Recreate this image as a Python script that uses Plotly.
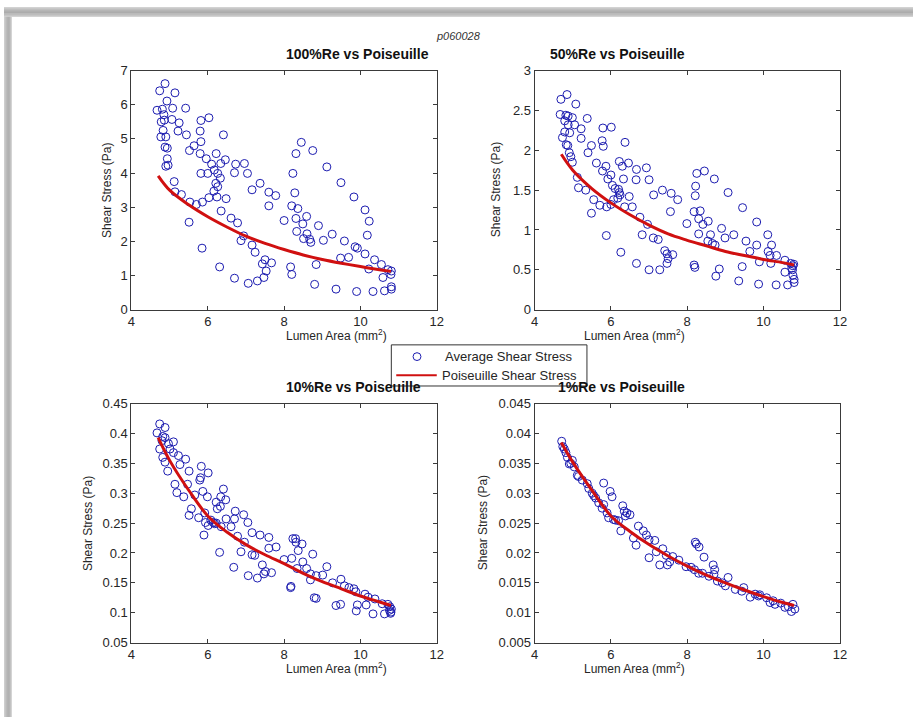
import plotly.graph_objects as go

# ---------------- data ----------------
x100 = [4.88, 4.74, 5.14, 4.93, 4.67, 4.81, 5.08, 5.42, 4.85, 5.06, 4.78, 5.25, 5.82, 6.03, 4.83, 5.22,
        5.80, 5.44, 4.77, 4.90, 6.41, 5.82, 5.64, 5.52, 4.88, 4.94, 5.80, 6.22, 5.96, 6.46, 4.94, 4.96,
        4.90, 6.10, 6.34, 6.73, 6.96, 7.04, 6.70, 5.82, 6.00, 6.17, 6.26, 6.33, 6.21, 5.12, 7.37, 7.16,
        7.60, 7.78, 6.16, 5.14, 5.31, 5.53, 5.70, 5.86, 6.03, 6.24, 6.48, 7.60, 6.35, 6.61, 6.78, 5.51,
        6.94, 6.87, 7.16, 7.24, 5.85, 7.50, 7.67, 7.43, 7.53, 7.47, 7.30, 7.06, 6.70, 6.31, 8.00, 8.20,
        8.23, 8.31, 8.45, 8.75, 9.12, 9.49, 9.83, 10.12, 10.23, 10.18, 8.28, 8.36, 8.31, 8.59, 8.49, 8.90,
        8.33, 8.60, 8.67, 8.70, 8.51, 9.03, 9.26, 9.58, 9.86, 9.92, 9.69, 9.48, 10.12, 10.37, 10.55, 10.72,
        10.81, 10.22, 8.84, 8.17, 8.20, 8.80, 9.36, 9.90, 10.33, 10.63, 10.59, 10.81, 10.81, 10.80, 6.26, 4.86]
y100 = [6.62, 6.41, 6.35, 6.11, 5.84, 5.87, 5.90, 5.90, 5.71, 5.57, 5.50, 5.47, 5.54, 5.62, 5.25, 5.23,
        5.23, 5.12, 5.06, 5.06, 5.12, 4.92, 4.80, 4.66, 4.76, 4.73, 4.57, 4.57, 4.42, 4.39, 4.42, 4.23,
        4.20, 4.26, 4.28, 4.26, 4.28, 3.99, 4.01, 3.99, 3.99, 4.09, 3.99, 3.85, 3.70, 3.75, 3.70, 3.51,
        3.44, 3.34, 3.47, 3.45, 3.37, 3.15, 3.08, 3.15, 3.28, 3.30, 3.25, 3.04, 2.89, 2.68, 2.54, 2.56,
        2.16, 2.02, 1.89, 1.68, 1.80, 1.46, 1.37, 1.34, 1.13, 0.94, 0.84, 0.77, 0.92, 1.25, 2.61, 3.04,
        3.99, 4.57, 4.90, 4.66, 4.18, 3.72, 3.30, 2.92, 2.59, 2.18, 3.42, 2.96, 2.67, 2.73, 2.51, 2.46,
        2.29, 2.22, 2.06, 1.97, 2.08, 2.03, 2.21, 2.01, 1.84, 1.80, 1.53, 1.51, 1.63, 1.46, 1.32, 1.17,
        1.13, 1.19, 1.32, 1.25, 1.03, 0.74, 0.60, 0.53, 0.53, 0.55, 0.94, 0.67, 0.60, 1.03, 3.60, 5.55]

x50 = [4.69, 4.85, 5.08, 4.67, 4.82, 4.88, 4.99, 4.79, 5.05, 5.38, 4.88, 5.22, 5.79, 6.01, 4.79, 4.92,
       4.73, 5.22, 5.77, 6.37, 4.83, 4.87, 5.49, 5.80, 5.40, 4.91, 4.95, 4.99, 5.62, 6.22, 6.46, 6.30,
       5.87, 6.67, 6.93, 5.78, 6.00, 5.92, 6.33, 6.66, 7.00, 5.12, 6.04, 6.11, 6.20, 6.22, 6.24, 6.18,
       6.07, 5.15, 5.34, 5.55, 6.48, 7.35, 7.58, 7.12, 7.75, 5.71, 5.89, 6.00, 6.36, 6.56, 5.49, 7.56,
       6.76, 6.96, 7.99, 8.18, 8.30, 8.34, 8.21, 8.22, 8.25, 8.45, 8.71, 9.07, 9.45, 9.82, 10.11, 10.21,
       8.41, 8.55, 8.30, 8.61, 8.90, 8.99, 9.22, 8.54, 8.66, 8.73, 9.54, 9.64, 9.82, 9.89, 10.12, 10.17,
       10.19, 10.34, 10.56, 10.71, 10.77, 10.74, 10.56, 10.77, 10.80, 10.80, 10.63, 10.33, 9.87, 9.35,
       9.44, 8.75, 8.84, 8.18, 8.20, 7.28, 7.00, 6.67, 6.26, 5.88, 6.82, 7.11, 7.24, 7.41, 7.47, 7.62,
       7.50, 7.47, 10.79, 10.76]
y50 = [2.64, 2.70, 2.58, 2.45, 2.44, 2.43, 2.41, 2.37, 2.32, 2.40, 2.32, 2.27, 2.28, 2.29, 2.23, 2.22,
       2.16, 2.15, 2.12, 2.10, 2.07, 2.06, 2.06, 2.05, 1.97, 1.97, 1.92, 1.85, 1.84, 1.86, 1.84, 1.80,
       1.80, 1.76, 1.78, 1.74, 1.69, 1.64, 1.64, 1.63, 1.63, 1.66, 1.56, 1.52, 1.51, 1.47, 1.44, 1.40,
       1.38, 1.53, 1.50, 1.38, 1.42, 1.50, 1.46, 1.44, 1.38, 1.31, 1.29, 1.32, 1.29, 1.29, 1.21, 1.23,
       1.16, 1.07, 1.08, 1.23, 1.14, 1.24, 1.43, 1.55, 1.71, 1.74, 1.64, 1.47, 1.28, 1.10, 0.94, 0.81,
       1.07, 1.11, 0.95, 0.94, 1.02, 0.90, 0.94, 0.86, 0.83, 0.81, 0.86, 0.73, 0.81, 0.60, 0.73, 0.68,
       0.58, 0.68, 0.62, 0.58, 0.55, 0.52, 0.47, 0.43, 0.38, 0.34, 0.31, 0.31, 0.32, 0.36,
       0.54, 0.42, 0.51, 0.56, 0.53, 0.50, 0.50, 0.58, 0.72, 0.93, 0.94, 0.90, 0.88, 0.74, 0.70, 0.69,
       0.64, 0.58, 0.57, 0.50]

x10 = [4.74, 4.67, 4.88, 4.82, 4.88, 4.80, 5.10, 4.97, 4.74, 5.01, 5.10, 5.23, 5.42, 4.82, 4.88, 5.27,
       5.51, 4.95, 5.83, 6.01, 5.81, 5.79, 5.14, 5.19, 5.37, 5.47, 6.41, 5.87, 5.99, 6.34, 6.47, 6.22,
       6.33, 6.25, 5.66, 5.57, 5.51, 5.76, 5.92, 5.94, 6.01, 6.14, 6.18, 6.22, 6.08, 6.35, 6.48, 6.70,
       6.72, 6.94, 7.05, 6.61, 6.78, 6.96, 7.16, 7.37, 7.60, 7.60, 7.79, 5.90, 6.31, 6.87, 7.16, 7.23,
       6.68, 7.06, 7.30, 7.43, 7.47, 7.51, 7.67, 8.00, 8.20, 8.23, 8.30, 8.31, 8.47, 8.37, 8.75, 8.49,
       8.59, 8.34, 8.69, 8.69, 8.84, 9.01, 9.12, 9.27, 9.49, 9.58, 9.70, 9.83, 9.88, 10.12, 10.20, 10.38,
       10.57, 10.72, 10.77, 10.81, 10.80, 10.63, 10.33, 10.15, 9.92, 9.89, 9.48, 9.36, 8.84, 8.79, 8.17,
       8.18, 10.76, 10.79]
y10 = [0.416, 0.401, 0.410, 0.395, 0.393, 0.388, 0.386, 0.383, 0.374, 0.374, 0.368, 0.363, 0.357, 0.360,
       0.352, 0.348, 0.337, 0.337, 0.345, 0.334, 0.326, 0.322, 0.315, 0.301, 0.294, 0.315, 0.307, 0.303,
       0.294, 0.294, 0.289, 0.285, 0.278, 0.274, 0.297, 0.274, 0.263, 0.259, 0.267, 0.251, 0.246, 0.251,
       0.249, 0.250, 0.255, 0.244, 0.257, 0.257, 0.270, 0.264, 0.251, 0.244, 0.228, 0.218, 0.234, 0.230,
       0.226, 0.208, 0.210, 0.230, 0.201, 0.202, 0.197, 0.196, 0.176, 0.162, 0.158, 0.180, 0.165, 0.169,
       0.167, 0.189, 0.191, 0.224, 0.224, 0.218, 0.215, 0.204, 0.198, 0.185, 0.174, 0.174, 0.165, 0.155,
       0.162, 0.163, 0.177, 0.150, 0.156, 0.145, 0.142, 0.140, 0.135, 0.131, 0.126, 0.123, 0.115, 0.114,
       0.110, 0.106, 0.101, 0.098, 0.098, 0.113, 0.113, 0.103, 0.114, 0.112, 0.124, 0.125, 0.142, 0.144,
       0.104, 0.099]

x1 = [4.71, 4.78, 4.82, 4.86, 4.91, 4.99, 5.04, 5.12, 5.25, 5.38, 5.42, 5.51, 5.60, 5.68, 5.77, 5.81,
      5.81, 5.90, 5.94, 5.98, 6.03, 6.07, 6.20, 6.26, 6.31, 6.35, 6.42, 6.50, 6.59, 6.66, 6.72, 6.85,
      6.93, 7.00, 7.00, 7.15, 7.19, 7.28, 7.36, 7.45, 7.48, 7.54, 7.62, 7.78, 7.97, 8.19, 8.21, 8.24,
      8.31, 8.30, 8.44, 8.57, 8.68, 8.72, 8.70, 8.79, 8.92, 9.00, 9.07, 9.26, 9.43, 9.48, 9.65, 9.78,
      9.87, 10.08, 10.17, 10.30, 10.45, 10.56, 10.65, 10.73, 10.77, 10.82, 4.74, 4.95, 5.15, 5.55,
      6.12, 6.38, 8.10, 8.40, 9.90, 10.25]
y1 = [0.0387, 0.0374, 0.0368, 0.0360, 0.0349, 0.0355, 0.0344, 0.0330, 0.0322, 0.0316, 0.0308, 0.0300,
      0.0292, 0.0284, 0.0275, 0.0317, 0.0281, 0.0267, 0.0259, 0.0303, 0.0294, 0.0256, 0.0254, 0.0237,
      0.0279, 0.0270, 0.0267, 0.0264, 0.0225, 0.0213, 0.0245, 0.0237, 0.0230, 0.0222, 0.0192, 0.0221,
      0.0202, 0.0180, 0.0207, 0.0196, 0.0180, 0.0185, 0.0194, 0.0188, 0.0177, 0.0172, 0.0218, 0.0215,
      0.0210, 0.0166, 0.0193, 0.0161, 0.0180, 0.0172, 0.0164, 0.0153, 0.0150, 0.0145, 0.0159, 0.0139,
      0.0136, 0.0142, 0.0126, 0.0131, 0.0128, 0.0125, 0.0117, 0.0114, 0.0116, 0.0109, 0.0110, 0.0102,
      0.0114, 0.0106, 0.0378, 0.0350, 0.0328, 0.0296, 0.0255, 0.0262, 0.0176, 0.0166, 0.0130, 0.0120]

curve_x = [4.7, 5.0, 5.5, 6.0, 6.5, 7.0, 7.5, 8.0, 8.5, 9.0, 9.5, 10.0, 10.5, 10.8]
curve100 = [3.92, 3.50, 3.07, 2.72, 2.42, 2.15, 1.94, 1.76, 1.60, 1.47, 1.36, 1.26, 1.17, 1.12]
curve50 = [1.95, 1.75, 1.52, 1.34, 1.19, 1.06, 0.95, 0.87, 0.80, 0.73, 0.68, 0.63, 0.59, 0.56]
curve10 = [0.393, 0.355, 0.305, 0.262, 0.235, 0.214, 0.197, 0.182, 0.166, 0.152, 0.140, 0.128, 0.118, 0.112]
curve1 = [0.0385, 0.0352, 0.0305, 0.0262, 0.0236, 0.0214, 0.0195, 0.0178, 0.0163, 0.0150, 0.0138, 0.0127, 0.0117, 0.0112]

titles = ["100%Re vs Poiseuille", "50%Re vs Poiseuille", "10%Re vs Poiseuille", "1%Re vs Poiseuille"]
x_ticks = [4, 6, 8, 10, 12]
y_ticks = [
    [0, 1, 2, 3, 4, 5, 6, 7],
    [0, 0.5, 1, 1.5, 2, 2.5, 3],
    [0.05, 0.1, 0.15, 0.2, 0.25, 0.3, 0.35, 0.4, 0.45],
    [0.005, 0.01, 0.015, 0.02, 0.025, 0.03, 0.035, 0.04, 0.045],
]
y_tick_text = [
    ["0", "1", "2", "3", "4", "5", "6", "7"],
    ["0", "0.5", "1", "1.5", "2", "2.5", "3"],
    ["0.05", "0.1", "0.15", "0.2", "0.25", "0.3", "0.35", "0.4", "0.45"],
    ["0.005", "0.01", "0.015", "0.02", "0.025", "0.03", "0.035", "0.04", "0.045"],
]
legend_names = ["Average Shear Stress", "Poiseuille Shear Stress"]

# ---------------- figure ----------------
W, H = 920, 725
FONT = "Liberation Sans, Arial, sans-serif"
BLUE = "#1c1cb0"
RED = "#d01010"
AX = "#3a3a3a"
TXT = "#262626"

# axes boxes in pixels (left, top, right, bottom)
boxes = [(129, 65, 438, 309), (537, 65, 846, 309), (129, 405, 438, 649), (537, 405, 846, 649)]
ylabel_x = [104, 498, 85, 485]

series = [(x100, y100, curve100), (x50, y50, curve50), (x10, y10, curve10), (x1, y1, curve1)]


def px(x):
    return x / W


def py(y):
    return 1 - y / H


fig = go.Figure()
layout = dict(
    width=W, height=H, margin=dict(l=0, r=0, t=0, b=0),
    paper_bgcolor="white", plot_bgcolor="white",
    font=dict(family=FONT, size=12, color=TXT),
    showlegend=False,
)
annotations = []
shapes = []

for i, (xs, ys, cy) in enumerate(series):
    n = "" if i == 0 else str(i + 1)
    l, t, r, b = boxes[i]
    fig.add_trace(go.Scatter(
        x=xs, y=ys, mode="markers", name=legend_names[0],
        marker=dict(symbol="circle-open", size=8, color=BLUE, line=dict(width=1, color=BLUE)),
        xaxis="x" + n, yaxis="y" + n))
    fig.add_trace(go.Scatter(
        x=curve_x, y=cy, mode="lines", name=legend_names[1],
        line=dict(color=RED, width=3, shape="spline"),
        xaxis="x" + n, yaxis="y" + n))
    yt = y_ticks[i]
    layout["xaxis" + n] = dict(
        domain=[px(l), px(r)], anchor="y" + n, range=[4, 12],
        tickvals=x_ticks, ticktext=[str(v) for v in x_ticks],
        ticks="inside", ticklen=4, tickcolor=AX, showline=True, linecolor=AX, linewidth=1,
        mirror="ticks", showgrid=False, zeroline=False,
        tickfont=dict(family=FONT, size=13, color=TXT))
    layout["yaxis" + n] = dict(
        domain=[py(b), py(t)], anchor="x" + n, range=[yt[0], yt[-1]],
        tickvals=yt, ticktext=y_tick_text[i],
        ticks="inside", ticklen=4, tickcolor=AX, showline=True, linecolor=AX, linewidth=1,
        mirror="ticks", showgrid=False, zeroline=False,
        tickfont=dict(family=FONT, size=13, color=TXT))
    annotations.append(dict(text="<b>" + titles[i] + "</b>", x=px((l + r) / 2), y=py(t - 16.5),
                            xref="paper", yref="paper", showarrow=False,
                            font=dict(family=FONT, size=14, color="#111"), yanchor="middle"))
    annotations.append(dict(text="Lumen Area (mm<sup>2</sup>)", x=px((l + r) / 2), y=py(b + 26),
                            xref="paper", yref="paper", showarrow=False,
                            font=dict(family=FONT, size=12, color=TXT), yanchor="middle"))
    annotations.append(dict(text="Shear Stress (Pa)", x=px(ylabel_x[i]), y=py((t + b) / 2),
                            xref="paper", yref="paper", showarrow=False, textangle=-90,
                            font=dict(family=FONT, size=12, color=TXT),
                            xanchor="center", yanchor="middle"))

annotations.append(dict(text="<i>p060028</i>", x=px(460), y=py(30), xref="paper", yref="paper",
                        xanchor="center", yanchor="middle",
                        showarrow=False, font=dict(family=FONT, size=11, color="#333")))

# legend box in the middle of the figure
LG = dict(l=392, t=345, r=590, b=387)
shapes.append(dict(type="rect", xref="paper", yref="paper", x0=px(LG["l"]), x1=px(LG["r"]),
                   y0=py(LG["b"]), y1=py(LG["t"]), fillcolor="white", line=dict(color="#333", width=1)))
shapes.append(dict(type="circle", xref="paper", yref="paper", x0=px(414), x1=px(422),
                   y0=py(361), y1=py(353), line=dict(color=BLUE, width=1)))
shapes.append(dict(type="line", xref="paper", yref="paper", x0=px(397), x1=px(438),
                   y0=py(376), y1=py(376), line=dict(color=RED, width=2)))
annotations.append(dict(text=legend_names[0], x=px(444), y=py(357), xref="paper", yref="paper",
                        xanchor="left", yanchor="middle", showarrow=False,
                        font=dict(family=FONT, size=13, color=TXT)))
annotations.append(dict(text=legend_names[1], x=px(441), y=py(376), xref="paper", yref="paper",
                        xanchor="left", yanchor="middle", showarrow=False,
                        font=dict(family=FONT, size=13, color=TXT)))

# drop shadow of the page (top and left bands)
top_band = ["#d2d2d2", "#c8c8c8", "#bebebe", "#b6b6b6", "#b0b0b0", "#acacac", "#aaaaaa", "#acacac",
            "#b4b4b4", "#c4c4c4"]
for k, c in enumerate(top_band):
    shapes.append(dict(type="rect", xref="paper", yref="paper", x0=0, x1=1,
                       y0=py(k + 1), y1=py(k), fillcolor=c, line=dict(width=0), layer="below"))
left_band = ["#cfcfcf", "#c4c4c4", "#bababa", "#b2b2b2", "#adadad", "#b0b0b0", "#bcbcbc", "#d0d0d0"]
for k, c in enumerate(left_band):
    shapes.append(dict(type="rect", xref="paper", yref="paper", x0=px(k), x1=px(k + 1),
                       y0=0, y1=py(10), fillcolor=c, line=dict(width=0), layer="below"))

layout["annotations"] = annotations
layout["shapes"] = shapes
fig.update_layout(**layout)
fig.write_html("out.html")
